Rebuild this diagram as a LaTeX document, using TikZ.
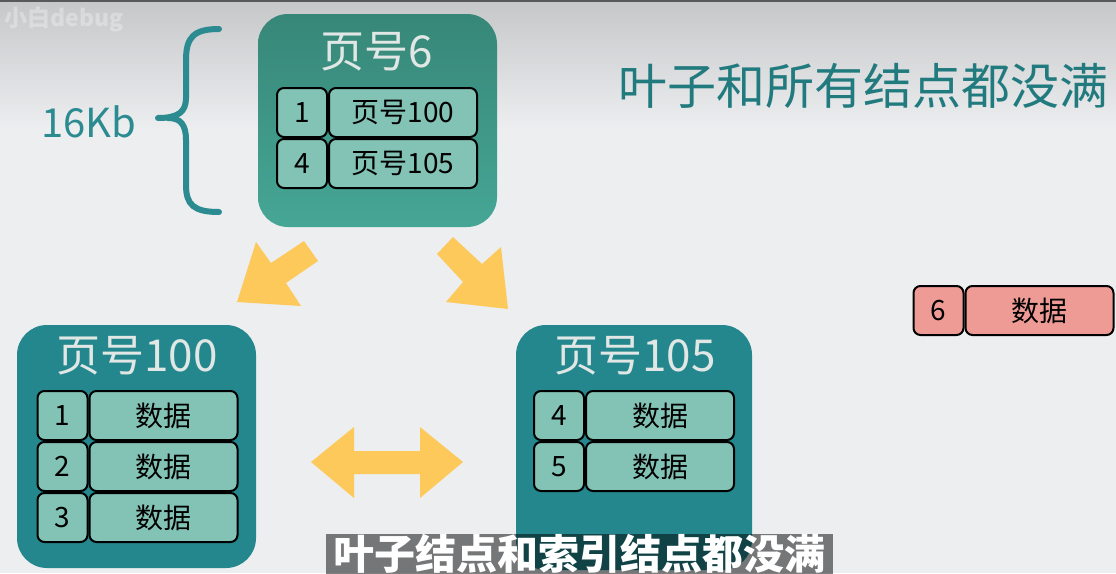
\documentclass[tikz,border=0pt]{standalone}
\usepackage{fontspec}
\setmainfont{Noto Sans CJK SC}
\usepackage{tikz}
\usetikzlibrary{positioning}
\usepackage{xcolor}

\definecolor{bgtop}{RGB}{198,199,201}
\definecolor{bgbottom}{RGB}{236,238,240}
\definecolor{rootdark}{RGB}{55,135,120}
\definecolor{rootlight}{RGB}{70,166,149}
\definecolor{leafteal}{RGB}{36,135,141}
\definecolor{cellteal}{RGB}{131,195,182}
\definecolor{cellred}{RGB}{238,155,149}
\definecolor{titlegray}{RGB}{224,231,229}
\definecolor{arrowyellow}{RGB}{254,201,91}
\definecolor{bracecol}{RGB}{43,139,144}
\definecolor{headcol}{RGB}{33,122,126}

\begin{document}
\begin{tikzpicture}[x=1pt, y=-1pt,
  page/.style={rounded corners=30pt, minimum width=239pt, inner sep=0pt},
  pagetitle/.style={text=titlegray, font=\fontsize{44}{48}\selectfont},
  cell/.style={draw=black, line width=2pt, rounded corners=7pt, fill=cellteal,
    minimum height=49pt, inner sep=0pt, font=\fontsize{28}{30}\selectfont},
  keycell/.style={cell, minimum width=50pt},
  valcell/.style={cell, minimum width=148pt},
  bigarrow/.style={fill=arrowyellow}]

  % Background
  \useasboundingbox (0,0) rectangle (1116,573);
  \fill[bgbottom] (0,0) rectangle (1116,573);
  \shade[top color=bgtop, bottom color=bgbottom] (0,0) rectangle (1116,130);
  \fill[black!65] (0,0) rectangle (1116,2);
  \node[text=white, opacity=0.3, font=\fontsize{23}{23}\bfseries\selectfont] (mark) at (64,19) {小白debug};

  % Define the three pages
  \node[page, minimum height=213pt, top color=rootdark, bottom color=rootlight] (p6) at (377.5,120.5) {};
  \node[page, minimum height=243pt, fill=leafteal] (p100) at (136.5,446.5) {};
  \node[page, minimum width=236pt, minimum height=245pt, fill=leafteal] (p105) at (634,447.5) {};

  \node[pagetitle] (t6) at (377,52) {页号6};
  \node[pagetitle] (t100) at (137,356) {页号100};
  \node[pagetitle] (t105) at (635,356) {页号105};

  % Rows of page 6
  \node[keycell] (r6k1) at (302,112.5) {1};
  \node[valcell, right=0pt of r6k1] (r6v1) {页号100};
  \node[keycell, below=0pt of r6k1] (r6k2) {4};
  \node[valcell, right=0pt of r6k2] (r6v2) {页号105};

  % Rows of page 100
  \node[keycell] (r100k1) at (62.5,415.5) {1};
  \node[valcell, right=0pt of r100k1] (r100v1) {数据};
  \node[keycell, below=0pt of r100k1] (r100k2) {2};
  \node[valcell, right=0pt of r100k2] (r100v2) {数据};
  \node[keycell, below=0pt of r100k2] (r100k3) {3};
  \node[valcell, right=0pt of r100k3] (r100v3) {数据};

  % Rows of page 105
  \node[keycell] (r105k1) at (559,415.5) {4};
  \node[valcell, right=0pt of r105k1] (r105v1) {数据};
  \node[keycell, below=0pt of r105k1] (r105k2) {5};
  \node[valcell, right=0pt of r105k2] (r105v2) {数据};

  % New record
  \node[keycell, fill=cellred] (newk) at (938.5,310.5) {6};
  \node[valcell, fill=cellred, right=0pt of newk] (newv) {数据};

  % Size brace
  \draw[bracecol, line width=6pt, line cap=round]
    (219,29) .. controls (194,29) and (186,37) .. (186,60) -- (186,98)
    .. controls (186,112) and (178,118) .. (158,118);
  \draw[bracecol, line width=6pt, line cap=round]
    (168,118) .. controls (180,118) and (186,124) .. (186,140) -- (186,185)
    .. controls (186,205) and (194,212) .. (219,212);
  \node[text=bracecol, font=\fontsize{40}{44}\selectfont] (size) at (89,122) {16Kb};

  % Yellow arrows
  \fill[bigarrow] (237,302) -- (256,242) -- (271,263) -- (304,241) -- (318,261) -- (286,283) -- (301,306) -- cycle;
  \fill[bigarrow] (508,309) -- (446,302) -- (463,282) -- (437,254) -- (453,237) -- (482,264) -- (501,247) -- cycle;
  \fill[bigarrow] (311,462) -- (354,427) -- (354,451) -- (420,451) -- (420,427) -- (463,462)
    -- (420,498) -- (420,474) -- (354,474) -- (354,498) -- cycle;

  % Heading and subtitle
  \node[text=headcol, font=\fontsize{49}{52}\selectfont] (head) at (863,86) {叶子和所有结点都没满};
  \node[fill=black, fill opacity=0.5, text opacity=1, text=white, inner sep=0pt,
    minimum width=507pt, minimum height=40pt, font=\fontsize{41}{41}\bfseries\selectfont] (sub) at (579.5,554) {叶子结点和索引结点都没满};

\end{tikzpicture}
\end{document}
